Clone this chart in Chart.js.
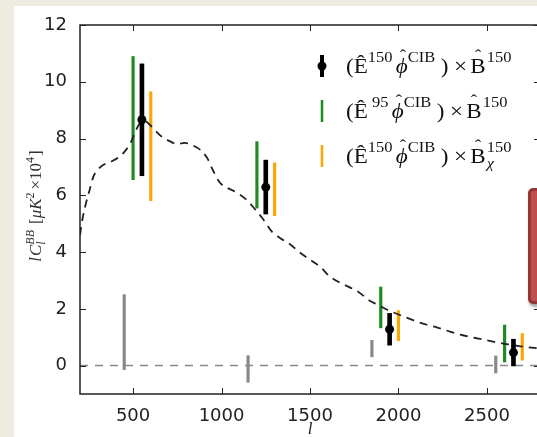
<!DOCTYPE html>
<html lang="en">
<head>
<meta charset="UTF-8">
<title>lC_l^BB cross spectra</title>
<script src="https://cdn.jsdelivr.net/npm/chart.js@4.4.1/dist/chart.umd.min.js"></script>
<style>
    html, body { margin: 0; padding: 0; }
    body { width: 537px; height: 437px; overflow: hidden; position: relative; background: #eeebe1; }
    .panel { position: absolute; left: 14px; top: 6px; width: 560px; height: 440px; background: #fff; }
    #wrap { position: absolute; left: 0; top: 0; width: 560px; height: 437px; }
    .note {
        position: absolute; left: 528px; top: 188px; width: 30px; height: 110px;
        background: #c0504d; border: 3px solid #943634; border-radius: 5px;
        box-shadow: 1px 3px 3px rgba(0, 0, 0, 0.35);
    }
</style>
</head>
<body>
<div class="panel"></div>
<div id="wrap"><canvas id="clChart" width="560" height="437"></canvas></div>
<div class="note"></div>
<script>
// theory curve (dashed)
const ell      = [200, 215, 235, 255, 275, 300, 340, 380, 420, 460, 490, 510, 540, 570, 600, 630, 665, 710, 750, 790,
                  840, 880, 920, 950, 990, 1030, 1070, 1140, 1190, 1230, 1290, 1330, 1390, 1440, 1500, 1560, 1610, 1670, 1730, 1780,
                  1830, 1880, 1940, 2000, 2050, 2100, 2160, 2220, 2290, 2350, 2420, 2480, 2560, 2620, 2700, 2800];
const clTheory = [4.6, 5.2, 5.75, 6.2, 6.65, 6.9, 7.1, 7.2, 7.35, 7.6, 7.9, 8.2, 8.55, 8.6, 8.45, 8.25, 8.05, 7.9, 7.8, 7.85,
                  7.75, 7.6, 7.3, 6.9, 6.45, 6.27, 6.15, 5.85, 5.5, 5.2, 4.68, 4.5, 4.26, 4.0, 3.73, 3.47, 3.15, 2.92, 2.74, 2.57,
                  2.32, 2.15, 1.96, 1.8, 1.68, 1.56, 1.44, 1.34, 1.2, 1.09, 0.99, 0.92, 0.81, 0.75, 0.67, 0.6];

// (E150 phiCIB) x B150
const ellBlack = [550, 1250, 1950, 2650];
const valBlack = [8.66, 6.29, 1.28, 0.46];
const errBlack = [1.97, 0.95, 0.56, 0.47];
// (E95 phiCIB) x B150
const ellGreen = [500, 1200, 1900, 2600];
const valGreen = [8.72, 6.72, 2.05, 0.78];
const errGreen = [2.17, 1.17, 0.72, 0.65];
// (E150 phiCIB) x B150_chi
const ellOrange = [600, 1300, 2000, 2700];
const valOrange = [7.73, 6.21, 1.41, 0.66];
const errOrange = [1.92, 0.93, 0.53, 0.47];
// null test
const ellGrey = [450, 1150, 1850, 2550];
const valGrey = [1.18, -0.12, 0.60, 0.04];
const errGrey = [1.32, 0.47, 0.29, 0.30];

const xTicks = [500, 1000, 1500, 2000, 2500];
const yTicks = [0, 2, 4, 6, 8, 10, 12];

const GREEN = '#1f8a1f', ORANGE = '#ffa500', GREY = '#888888';
const SERIF = '"Liberation Serif", "DejaVu Serif", serif';

function errBars(xs, vals, errs) {
    return xs.map((x, i) => ({ x: x, y: [vals[i] - errs[i], vals[i] + errs[i]] }));
}

// draw a row of text pieces (superscripts, subscripts, hats); returns end x
function runs(ctx, x, y, parts, draw) {
    parts.forEach(p => {
        ctx.font = (p.it ? 'italic ' : '') + p.s + 'px ' + SERIF;
        const w = ctx.measureText(p.t).width;
        let adv = w;
        if (draw) {
            ctx.fillText(p.t, x, y + (p.dy || 0));
            if (p.hat) {
                ctx.font = Math.round(p.s * 0.8) + 'px ' + SERIF;
                ctx.textAlign = 'center';
                ctx.fillText('ˆ', x + w / 2 + (p.hx || 0), y - p.s * 0.55);
                ctx.textAlign = 'left';
            }
        }
        if (p.sub) {
            ctx.font = (p.sub.it ? 'italic ' : '') + p.sub.s + 'px ' + SERIF;
            const sw = ctx.measureText(p.sub.t).width;
            if (draw) ctx.fillText(p.sub.t, x, y + p.sub.dy);
            adv = Math.max(w, sw);
        }
        x += adv + (p.gap || 0);
    });
    return x;
}

const M = 21, S = 15, SUP = -11;
function legendParts(e, chi) {
    const last = { t: '150', s: S, dy: SUP };
    if (chi) last.sub = { t: 'χ', s: S, it: true, dy: 5 };
    return [
        { t: '(', s: M }, { t: 'Ê', s: M }, { t: e, s: S, dy: SUP, gap: 3 },
        { t: 'ϕ', s: M, it: true, hat: true, hx: 1 }, { t: 'CIB', s: S, dy: SUP, gap: 5 },
        { t: ')', s: M, gap: 5 }, { t: '×', s: M, gap: 3 }, { t: 'B', s: M, hat: true, gap: 1 }, last
    ];
}
const legendRows = [
    { color: '#000', width: 4, dot: true, parts: legendParts('150', false) },
    { color: GREEN, width: 2.5, parts: legendParts(' 95', false) },
    { color: ORANGE, width: 2.5, parts: legendParts('150', true) }
];

const frame = {
    id: 'frame',
    afterDraw(chart) {
        const { ctx, chartArea: a, scales: { x, y } } = chart;
        ctx.save();
        // axes box with inward ticks
        ctx.strokeStyle = '#222';
        ctx.lineWidth = 1.5;
        ctx.strokeRect(a.left, a.top, a.right - a.left, a.bottom - a.top);
        ctx.lineWidth = 1;
        ctx.beginPath();
        xTicks.forEach(v => {
            const px = Math.round(x.getPixelForValue(v)) + 0.5;
            ctx.moveTo(px, a.bottom); ctx.lineTo(px, a.bottom - 6);
            ctx.moveTo(px, a.top); ctx.lineTo(px, a.top + 6);
        });
        yTicks.forEach(v => {
            const py = Math.round(y.getPixelForValue(v)) + 0.5;
            ctx.moveTo(a.left, py); ctx.lineTo(a.left + 6, py);
            ctx.moveTo(a.right, py); ctx.lineTo(a.right - 6, py);
        });
        ctx.stroke();

        // legend
        ctx.textBaseline = 'alphabetic';
        ctx.textAlign = 'left';
        legendRows.forEach((r, i) => {
            const cy = 66 + i * 45;
            ctx.fillStyle = r.color;
            ctx.fillRect(322 - r.width / 2, cy - 11, r.width, 22);
            if (r.dot) {
                ctx.beginPath();
                ctx.arc(322, cy, 4.5, 0, Math.PI * 2);
                ctx.fill();
            }
            ctx.fillStyle = '#111';
            ctx.save();
            ctx.translate(346, cy + 7);
            ctx.scale(1.1, 1);
            runs(ctx, 0, 0, r.parts, true);
            ctx.restore();
        });

        // x label
        ctx.fillStyle = '#222';
        ctx.font = 'italic 17px ' + SERIF;
        ctx.textAlign = 'center';
        ctx.fillText('l', (a.left + a.right) / 2, 434);
        ctx.textAlign = 'left';

        // y label, rotated
        const yl = [
            { t: 'l', s: 17, it: true, gap: 1 },
            { t: 'C', s: 17, it: true },
            { t: 'BB', s: 12, it: true, dy: -7, sub: { t: 'l', s: 12, it: true, dy: 4 }, gap: 6 },
            { t: '[', s: 17 },
            { t: 'μK', s: 17, it: true },
            { t: '2', s: 12, dy: -7, gap: 3 },
            { t: '×10', s: 17 },
            { t: '4', s: 12, dy: -7, gap: 1 },
            { t: ']', s: 17 }
        ];
        ctx.translate(41, 206);
        ctx.rotate(-Math.PI / 2);
        ctx.fillStyle = '#333';
        const w = runs(ctx, 0, 0, yl, false);
        runs(ctx, -w / 2, 0, yl, true);
        ctx.restore();
    }
};

const tickFont = { family: '"DejaVu Sans"', size: 18 };

new Chart(document.getElementById('clChart'), {
    type: 'bar',
    data: {
        datasets: [
            { type: 'scatter', data: ellBlack.map((l, i) => ({ x: l, y: valBlack[i] })),
              pointRadius: 4.5, pointBackgroundColor: '#000', pointBorderWidth: 0, order: 0 },
            { data: errBars(ellBlack, valBlack, errBlack), backgroundColor: '#000', barThickness: 4, grouped: false, order: 1 },
            { type: 'line', data: ell.map((l, i) => ({ x: l, y: clTheory[i] })),
              borderColor: '#222', borderWidth: 1.8, borderDash: [8, 6], pointRadius: 0,
              cubicInterpolationMode: 'monotone', order: 2 },
            { data: errBars(ellOrange, valOrange, errOrange), backgroundColor: ORANGE, barThickness: 2.5, grouped: false, order: 3 },
            { data: errBars(ellGreen, valGreen, errGreen), backgroundColor: GREEN, barThickness: 2.5, grouped: false, order: 4 },
            { data: errBars(ellGrey, valGrey, errGrey), backgroundColor: GREY, barThickness: 2.5, grouped: false, order: 5 },
            { type: 'line', data: [{ x: 200, y: 0 }, { x: 2800, y: 0 }],
              borderColor: GREY, borderWidth: 1.5, borderDash: [8, 7], pointRadius: 0, order: 6 }
        ]
    },
    options: {
        responsive: false,
        animation: false,
        layout: { padding: { left: 14, top: 25, right: 20, bottom: 0 } },
        plugins: { legend: { display: false }, tooltip: { enabled: false } },
        scales: {
            x: {
                type: 'linear', min: 200, max: 2800, offset: false,
                grid: { display: false }, border: { display: false },
                afterBuildTicks: s => { s.ticks = xTicks.map(v => ({ value: v })); },
                afterFit: s => { s.height = 43; },
                ticks: { padding: 4, color: '#222', font: tickFont, callback: v => String(v) }
            },
            y: {
                min: -1, max: 12,
                grid: { display: false }, border: { display: false },
                afterBuildTicks: s => { s.ticks = yTicks.map(v => ({ value: v })); },
                afterFit: s => { s.width = 66; },
                ticks: { padding: 5, color: '#222', font: tickFont, callback: v => String(v) }
            }
        }
    },
    plugins: [frame]
});
</script>
</body>
</html>
